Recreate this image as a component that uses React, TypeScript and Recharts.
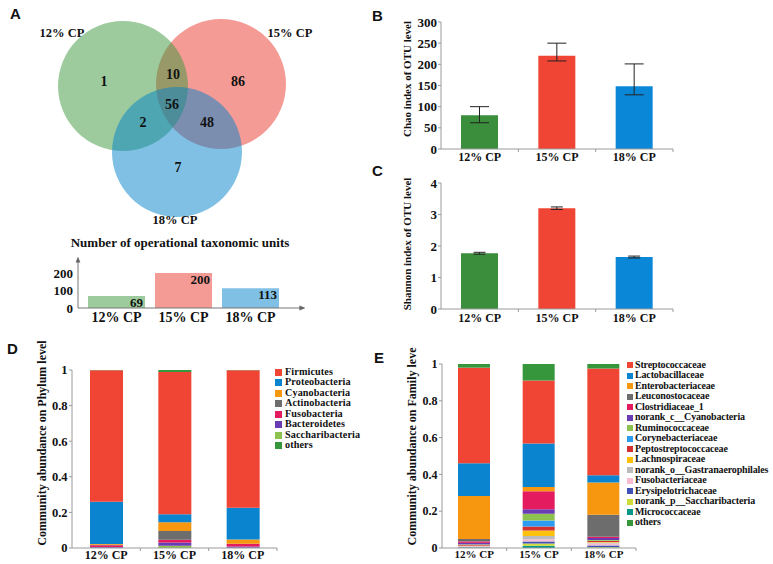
import React from "react";
import {
  BarChart,
  Bar,
  Cell,
  XAxis,
  YAxis,
  ErrorBar,
  LabelList,
  Label,
  Legend,
  ScatterChart,
  Scatter,
} from "recharts";

const SERIF = '"Liberation Serif", "Times New Roman", serif';
const SANS = '"Liberation Sans", Arial, sans-serif';

const GROUPS = ["12% CP", "15% CP", "18% CP"];

// venn layout, 1 unit = 10 px
const VENN_CX = [12.3, 22.1, 17.7];
const VENN_CY = [8.6, 8.4, 15.2];
const VENN_RADIUS = 6.5;
const VENN_LABEL_X = [6.2, 29.0, 17.5];
const VENN_LABEL_Y = [3.3, 3.3, 22.0];
const REGION_COUNTS = [1, 10, 86, 56, 2, 48, 7];
const REGION_X = [10.4, 17.3, 23.8, 17.2, 14.3, 20.7, 17.8];
const REGION_Y = [8.1, 7.4, 8.1, 10.4, 12.2, 12.2, 16.7];

const OTU_COUNTS = [69, 200, 113];

const CHAO_MEAN = [80, 220, 148];
const CHAO_ERR_LOW = [18, 12, 20];
const CHAO_ERR_HIGH = [20, 30, 53];

const SHANNON_MEAN = [1.77, 3.2, 1.65];
const SHANNON_ERR = [0.03, 0.04, 0.03];

const PHYLUM_NAMES = [
  "Firmicutes",
  "Proteobacteria",
  "Cyanobacteria",
  "Actinobacteria",
  "Fusobacteria",
  "Bacteroidetes",
  "Saccharibacteria",
  "others",
];
const PHYLUM_SHARES = [
  [0.739, 0.8, 0.773],
  [0.238, 0.045, 0.178],
  [0.004, 0.048, 0.024],
  [0.003, 0.05, 0.002],
  [0.01, 0.015, 0.013],
  [0.004, 0.018, 0.008],
  [0.001, 0.013, 0.001],
  [0.001, 0.011, 0.001],
];

const FAMILY_NAMES = [
  "Streptococcaceae",
  "Lactobacillaceae",
  "Enterobacteriaceae",
  "Leuconostocaceae",
  "Clostridiaceae_1",
  "norank_c__Cyanobacteria",
  "Ruminococcaceae",
  "Corynebacteriaceae",
  "Peptostreptococcaceae",
  "Lachnospiraceae",
  "norank_o__Gastranaerophilales",
  "Fusobacteriaceae",
  "Erysipelotrichaceae",
  "norank_p__Saccharibacteria",
  "Micrococcaceae",
  "others",
];
const FAMILY_SHARES = [
  [0.52, 0.342, 0.579],
  [0.178, 0.237, 0.04],
  [0.233, 0.022, 0.175],
  [0.013, 0.0, 0.12],
  [0.008, 0.098, 0.006],
  [0.008, 0.025, 0.012],
  [0.002, 0.037, 0.003],
  [0.001, 0.032, 0.002],
  [0.004, 0.022, 0.005],
  [0.002, 0.03, 0.003],
  [0.002, 0.018, 0.005],
  [0.004, 0.012, 0.012],
  [0.002, 0.011, 0.008],
  [0.001, 0.012, 0.002],
  [0.002, 0.012, 0.003],
  [0.02, 0.09, 0.025],
];

// styles
const VENN_FILL = ["#3b973b", "#f59b96", "#0181c9"];
const VENN_OPACITY = [0.5, 1, 0.5];
const OTU_COLORS = ["#9dcb9d", "#f59b96", "#80c0e4"];
const INDEX_COLORS = ["#3a8e3c", "#f04434", "#0a87d7"];
const PHYLUM_COLORS = [
  "#f04434", "#0b84cf", "#f7960f", "#6d6d6d",
  "#e51b5f", "#6a3cb4", "#8dc24f", "#36963c",
];
const FAMILY_COLORS = [
  "#f04434", "#0b84cf", "#f7960f", "#6d6d6d",
  "#e51b5f", "#6a3cb4", "#8dc24f", "#2c9cf0",
  "#d3302f", "#fcc10c", "#bcbcbc", "#f7bcd0",
  "#3f51b5", "#cddc39", "#079688", "#36963c",
];

const AXIS = "#9a9a9a";
const INK = "#111";

// bottom to top: reversed legend order, "others" kept on top
const stackOrder = (n: number) =>
  Array.from({ length: n - 1 }, (_, i) => n - 2 - i).concat([n - 1]);

function stackRows(names: string[], shares: number[][]) {
  return GROUPS.map((g, gi) => {
    const row: Record<string, any> = { group: g };
    names.forEach((n, ni) => (row[n] = shares[ni][gi]));
    return row;
  });
}

function CategoryTick(props: any) {
  const { x, y, payload, fontSize, band, gap, spacing } = props;
  const axisY = y - gap;
  return (
    <g>
      <text
        x={x}
        y={y}
        dy="0.71em"
        textAnchor="middle"
        fontFamily={SERIF}
        fontWeight="bold"
        fontSize={fontSize}
        letterSpacing={spacing || 0}
        fill={INK}
      >
        {payload.value}
      </text>
      {band ? (
        <line x1={x + band / 2} x2={x + band / 2} y1={axisY} y2={axisY + 3} stroke={AXIS} />
      ) : null}
    </g>
  );
}

function RotTitle({ text, cx, cy, size }: any) {
  return (
    <text
      x={cx}
      y={cy}
      transform={`rotate(-90 ${cx} ${cy})`}
      textAnchor="middle"
      dominantBaseline="central"
      fontFamily={SERIF}
      fontWeight="bold"
      fontSize={size}
      fill={INK}
    >
      {text}
    </text>
  );
}

function SwatchLegend({ names, colors, swatch, gap, lineH, fontSize, spacing }: any) {
  return (
    <div>
      {names.map((n: string, i: number) => (
        <div key={n} style={{ display: "flex", alignItems: "center", height: lineH }}>
          <span
            style={{ width: swatch, height: swatch, background: colors[i], marginRight: gap, flex: "none" }}
          />
          <span
            style={{
              fontFamily: SERIF,
              fontWeight: "bold",
              fontSize,
              letterSpacing: spacing || 0,
              color: INK,
              whiteSpace: "nowrap",
              lineHeight: `${lineH}px`,
            }}
          >
            {n}
          </span>
        </div>
      ))}
    </div>
  );
}

function PanelLetter({ ch, left, top }: { ch: string; left: number; top: number }) {
  return (
    <div
      style={{
        position: "absolute",
        left,
        top,
        fontFamily: SANS,
        fontWeight: "bold",
        fontSize: 15,
        lineHeight: "15px",
        color: INK,
      }}
    >
      {ch}
    </div>
  );
}

const yTick = (size: number) => ({ fontSize: size, fontFamily: SERIF, fontWeight: "bold", fill: INK });

function Venn() {
  const circles = [1, 0, 2].map((i) => ({ x: VENN_CX[i], y: VENN_CY[i], idx: i }));
  const setLabels = GROUPS.map((g, i) => ({ x: VENN_LABEL_X[i], y: VENN_LABEL_Y[i], text: g }));
  const regions = REGION_COUNTS.map((c, i) => ({ x: REGION_X[i], y: REGION_Y[i], text: String(c) }));
  const textShape = (size: number) => (p: any) => (
    <text
      x={p.cx}
      y={p.cy}
      textAnchor="middle"
      dominantBaseline="central"
      fontFamily={SERIF}
      fontWeight="bold"
      fontSize={size}
      fill={INK}
    >
      {p.payload.text}
    </text>
  );
  return (
    <ScatterChart width={320} height={235} margin={{ top: 0, right: 0, bottom: 0, left: 0 }}>
      <XAxis type="number" dataKey="x" domain={[0, 32]} hide />
      <YAxis type="number" dataKey="y" domain={[0, 23.5]} reversed hide />
      <Scatter
        data={circles}
        isAnimationActive={false}
        shape={(p: any) => (
          <circle
            cx={p.cx}
            cy={p.cy}
            r={VENN_RADIUS * 10}
            fill={VENN_FILL[p.payload.idx]}
            fillOpacity={VENN_OPACITY[p.payload.idx]}
          />
        )}
      />
      <Scatter data={regions} isAnimationActive={false} shape={textShape(14)} />
      <Scatter data={setLabels} isAnimationActive={false} shape={textShape(12.5)} />
    </ScatterChart>
  );
}

function OtuBars() {
  const data = GROUPS.map((g, i) => ({ group: g, value: OTU_COUNTS[i] }));
  return (
    <BarChart width={320} height={80} data={data} margin={{ top: 12, right: 20, bottom: 2, left: 28 }}>
      <defs>
        <marker id="arrowHead" viewBox="0 0 10 10" refX="1" refY="5" markerWidth="6" markerHeight="6" orient="auto-start-reverse">
          <path d="M0,1 L10,5 L0,9 z" fill="#666" />
        </marker>
      </defs>
      <XAxis
        dataKey="group"
        height={20}
        padding={{ left: 5, right: 16 }}
        axisLine={{ stroke: "#777", markerEnd: "url(#arrowHead)" }}
        tickLine={false}
        tickSize={0}
        tickMargin={4}
        tick={<CategoryTick fontSize={14} gap={4} />}
      />
      <YAxis
        width={50}
        domain={[0, 200]}
        ticks={[0, 100, 200]}
        interval={0}
        padding={{ top: 11 }}
        axisLine={{ stroke: "#777", markerStart: "url(#arrowHead)" }}
        tickLine={false}
        tickSize={0}
        tickMargin={5}
        tick={yTick(13)}
      />
      <Bar dataKey="value" barSize={57} isAnimationActive={false}>
        {data.map((d, i) => (
          <Cell key={d.group} fill={OTU_COLORS[i]} />
        ))}
        <LabelList
          dataKey="value"
          position="insideTopRight"
          offset={2}
          style={{ fontFamily: SERIF, fontWeight: "bold", fontSize: 13, fill: INK }}
        />
      </Bar>
    </BarChart>
  );
}

function IndexBars(props: {
  mean: number[];
  low: number[];
  high: number[];
  max: number;
  ticks: number[];
  title: string;
  titleY: number;
  top: number;
  labelGap: number;
  capWidth: number;
}) {
  const data = GROUPS.map((g, i) => ({ group: g, value: props.mean[i], err: [props.low[i], props.high[i]] }));
  return (
    <BarChart width={300} height={175} data={data} margin={{ top: props.top, right: 7, bottom: 2, left: 20 }}>
      <XAxis
        dataKey="group"
        height={24}
        axisLine={{ stroke: AXIS }}
        tickLine={false}
        tickSize={0}
        tickMargin={props.labelGap}
        tick={<CategoryTick fontSize={12} gap={props.labelGap} band={232 / 3} />}
      />
      <YAxis
        width={41}
        domain={[0, props.max]}
        ticks={props.ticks}
        interval={0}
        axisLine={{ stroke: AXIS }}
        tickLine={{ stroke: AXIS }}
        tickSize={3}
        tickMargin={1}
        tick={yTick(13)}
      >
        <Label content={<RotTitle text={props.title} cx={27} cy={props.titleY} size={11} />} />
      </YAxis>
      <Bar dataKey="value" barSize={37} isAnimationActive={false}>
        {data.map((d, i) => (
          <Cell key={d.group} fill={INDEX_COLORS[i]} />
        ))}
        <ErrorBar dataKey="err" width={props.capWidth} stroke="#222" strokeWidth={1} direction="y" />
      </Bar>
    </BarChart>
  );
}

function StackedBars(props: {
  names: string[];
  shares: number[][];
  colors: string[];
  width: number;
  margin: { top: number; right: number; bottom: number; left: number };
  plotWidth: number;
  barSize: number;
  tickSize: number;
  catSize: number;
  title: string;
  titleX: number;
  titleY: number;
  legendLeft: number;
  legendTop: number;
  swatch: number;
  swatchGap: number;
  lineH: number;
  legendFont: number;
  legendSpacing: number;
}) {
  const rows = stackRows(props.names, props.shares);
  const order = stackOrder(props.names.length);
  return (
    <BarChart width={props.width} height={224} data={rows} margin={props.margin}>
      <XAxis
        dataKey="group"
        height={14}
        axisLine={{ stroke: AXIS }}
        tickLine={false}
        tickSize={0}
        tickMargin={2}
        tick={<CategoryTick fontSize={props.catSize} gap={2} band={props.plotWidth / 3} />}
      />
      <YAxis
        width={40}
        domain={[0, 1]}
        ticks={[0, 0.2, 0.4, 0.6, 0.8, 1]}
        interval={0}
        axisLine={{ stroke: AXIS }}
        tickLine={{ stroke: AXIS }}
        tickSize={3}
        tickMargin={1.5}
        tick={yTick(props.tickSize)}
      >
        <Label content={<RotTitle text={props.title} cx={props.titleX} cy={props.titleY} size={12} />} />
      </YAxis>
      {order.map((k) => (
        <Bar
          key={props.names[k]}
          dataKey={props.names[k]}
          stackId="s"
          fill={props.colors[k]}
          barSize={props.barSize}
          isAnimationActive={false}
        />
      ))}
      <Legend
        layout="vertical"
        align="center"
        verticalAlign="middle"
        wrapperStyle={{ left: props.legendLeft, top: props.legendTop, width: "auto" }}
        content={
          <SwatchLegend
            names={props.names}
            colors={props.colors}
            swatch={props.swatch}
            gap={props.swatchGap}
            lineH={props.lineH}
            fontSize={props.legendFont}
            spacing={props.legendSpacing}
          />
        }
      />
    </BarChart>
  );
}

export default function App() {
  return (
    <div style={{ position: "absolute", left: 0, top: 0, width: 773, height: 564, background: "#fff", overflow: "hidden" }}>
      <PanelLetter ch="A" left={10} top={6} />
      <PanelLetter ch="B" left={372} top={8} />
      <PanelLetter ch="C" left={372} top={163} />
      <PanelLetter ch="D" left={7} top={341} />
      <PanelLetter ch="E" left={374} top={350} />

      <div style={{ position: "absolute", left: 0, top: 0 }}>
        <Venn />
      </div>
      <div
        style={{
          position: "absolute",
          left: 0,
          width: 360,
          top: 235,
          textAlign: "center",
          fontFamily: SERIF,
          fontWeight: "bold",
          fontSize: 13,
          lineHeight: "16px",
          color: INK,
        }}
      >
        Number of operational taxonomic units
      </div>
      <div style={{ position: "absolute", left: 0, top: 250 }}>
        <OtuBars />
      </div>

      <div style={{ position: "absolute", left: 380, top: 0 }}>
        <IndexBars
          mean={CHAO_MEAN}
          low={CHAO_ERR_LOW}
          high={CHAO_ERR_HIGH}
          max={300}
          ticks={[0, 50, 100, 150, 200, 250, 300]}
          title="Chao index of OTU level"
          titleY={79}
          top={22}
          labelGap={3.5}
          capWidth={9.5}
        />
      </div>
      <div style={{ position: "absolute", left: 380, top: 160 }}>
        <IndexBars
          mean={SHANNON_MEAN}
          low={SHANNON_ERR}
          high={SHANNON_ERR}
          max={4}
          ticks={[0, 1, 2, 3, 4]}
          title="Shannon index of OTU level"
          titleY={84}
          top={23}
          labelGap={4}
          capWidth={6}
        />
      </div>

      <div style={{ position: "absolute", left: 0, top: 340 }}>
        <StackedBars
          names={PHYLUM_NAMES}
          shares={PHYLUM_SHARES}
          colors={PHYLUM_COLORS}
          width={380}
          margin={{ top: 30, right: 103, bottom: 2, left: 32 }}
          plotWidth={205}
          barSize={33}
          tickSize={12.5}
          catSize={12}
          title="Community abundance on Phylum level"
          titleX={41.5}
          titleY={103}
          legendLeft={275}
          legendTop={26.8}
          swatch={7}
          swatchGap={3}
          lineH={10.5}
          legendFont={10.2}
          legendSpacing={0.1}
        />
      </div>
      <div style={{ position: "absolute", left: 380, top: 340 }}>
        <StackedBars
          names={FAMILY_NAMES}
          shares={FAMILY_SHARES}
          colors={FAMILY_COLORS}
          width={393}
          margin={{ top: 24, right: 137, bottom: 2, left: 22 }}
          plotWidth={194}
          barSize={32}
          tickSize={12}
          catSize={11}
          title="Community abundance on Family leve"
          titleX={31.7}
          titleY={106.5}
          legendLeft={247}
          legendTop={19.75}
          swatch={6}
          swatchGap={2}
          lineH={10.5}
          legendFont={10}
          legendSpacing={-0.15}
        />
      </div>
    </div>
  );
}
